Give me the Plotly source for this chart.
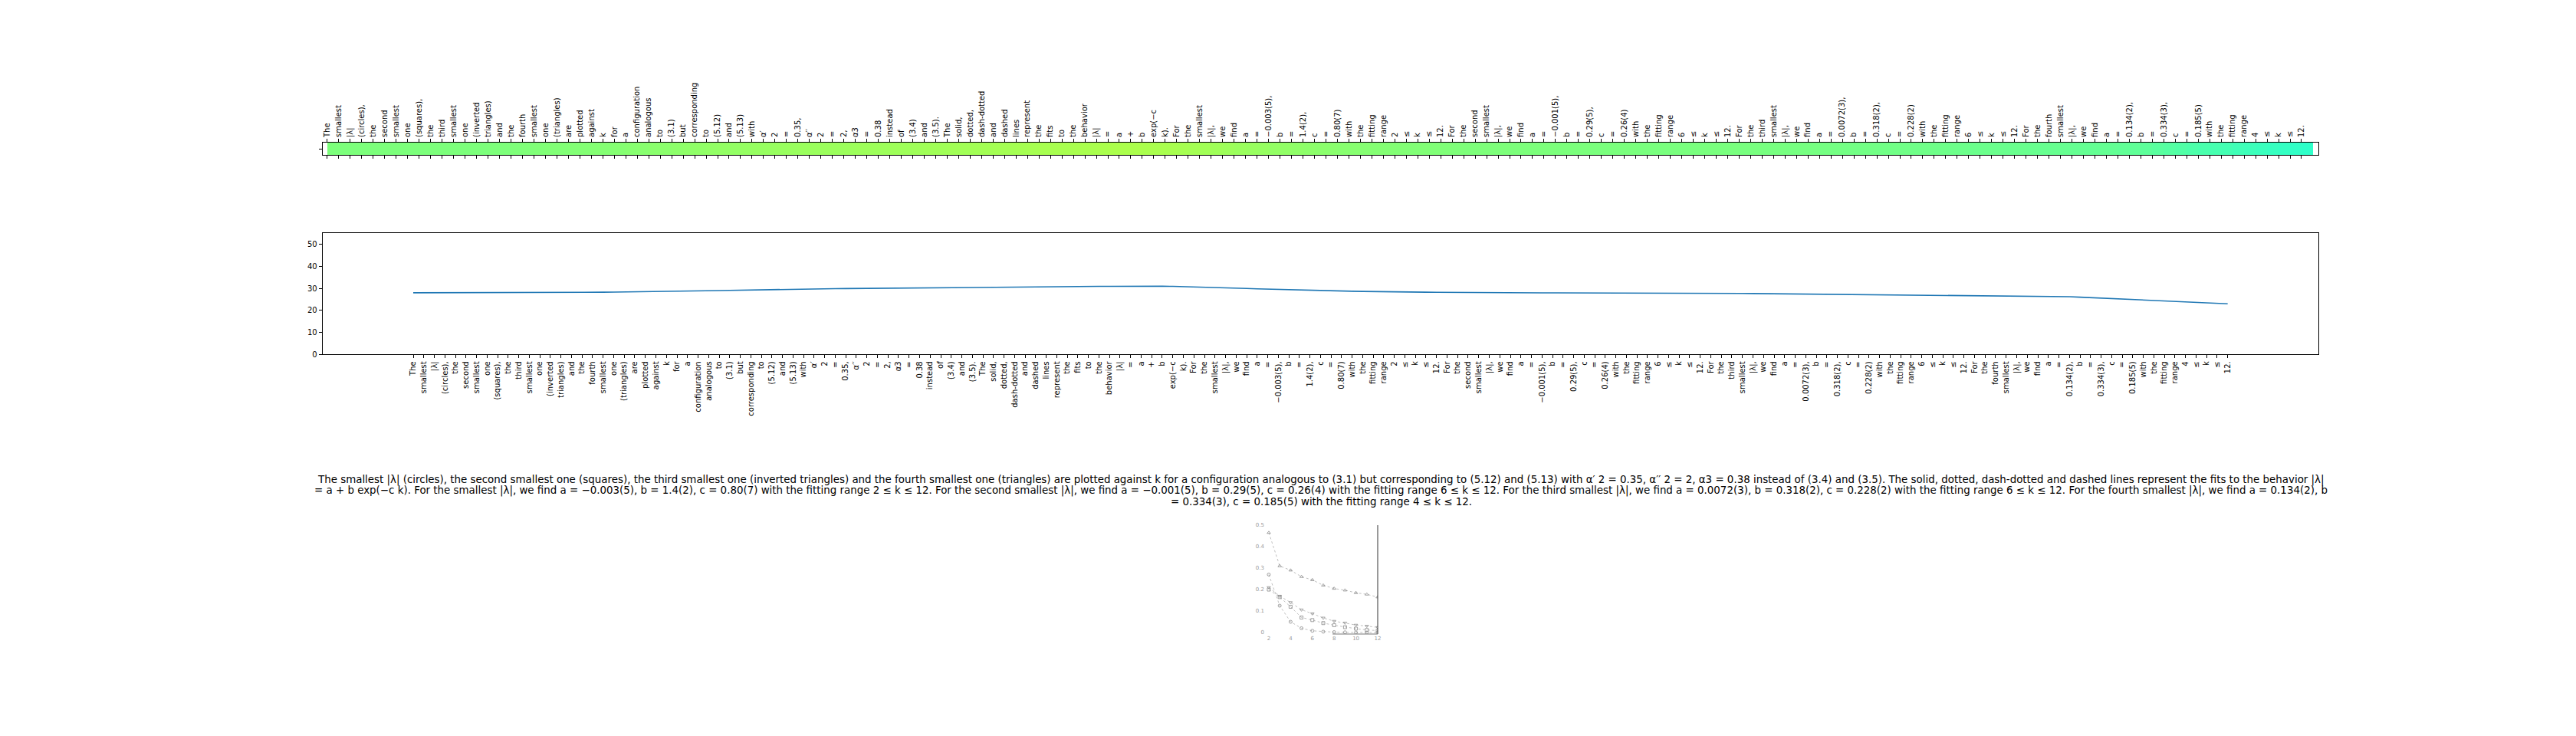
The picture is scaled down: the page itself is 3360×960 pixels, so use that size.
import plotly.graph_objects as go

# ---------------- data ----------------
caption = ("The smallest |λ| (circles), the second smallest one (squares), the third smallest one "
           "(inverted triangles) and the fourth smallest one (triangles) are plotted against k for a "
           "configuration analogous to (3.1) but corresponding to (5.12) and (5.13) with α′ 2 = 0.35, "
           "α′′ 2 = 2, α3 = 0.38 instead of (3.4) and (3.5). The solid, dotted, dash-dotted and dashed "
           "lines represent the fits to the behavior |λ| = a + b exp(−c k). For the smallest |λ|, we find "
           "a = −0.003(5), b = 1.4(2), c = 0.80(7) with the fitting range 2 ≤ k ≤ 12. For the second "
           "smallest |λ|, we find a = −0.001(5), b = 0.29(5), c = 0.26(4) with the fitting range 6 ≤ k ≤ 12. "
           "For the third smallest |λ|, we find a = 0.0072(3), b = 0.318(2), c = 0.228(2) with the fitting "
           "range 6 ≤ k ≤ 12. For the fourth smallest |λ|, we find a = 0.134(2), b = 0.334(3), "
           "c = 0.185(5) with the fitting range 4 ≤ k ≤ 12.")
words = caption.split(" ")
caption_line_ends = [68, 159]

word_values = [
    28.0, 28.0, 28.0, 28.0, 28.0, 28.0, 28.0, 28.0, 28.0, 28.0, 28.0, 28.0, 28.0,
    28.0, 28.05, 28.1, 28.15, 28.2, 28.25, 28.3, 28.35,
    28.4, 28.45, 28.5, 28.55, 28.6, 28.7, 28.8, 28.9, 29.0, 29.1,
    29.2, 29.3, 29.4, 29.45, 29.5, 29.6, 29.7, 29.75, 29.8, 29.85,
    29.9, 29.95, 30.0, 30.0, 30.05, 30.1, 30.1, 30.15, 30.2, 30.2, 30.25, 30.3, 30.3, 30.35,
    30.4, 30.45, 30.5, 30.55, 30.6, 30.65, 30.7, 30.75, 30.8, 30.85, 30.9, 30.9, 30.95, 31.0, 31.0, 31.0,
    30.95, 30.9, 30.8, 30.7, 30.55, 30.4, 30.25, 30.1, 29.95, 29.8,
    29.65, 29.5, 29.35, 29.2, 29.1, 29.0, 28.9, 28.8, 28.7, 28.6, 28.5, 28.45, 28.4, 28.35, 28.3,
    28.25, 28.2, 28.15, 28.1, 28.1,
    28.05, 28.05, 28.0, 28.0, 28.0, 28.0, 27.95, 27.95, 27.95, 27.9, 27.9, 27.9, 27.9, 27.85, 27.85,
    27.85, 27.85, 27.8, 27.8, 27.8, 27.8, 27.8, 27.75, 27.75, 27.7,
    27.7, 27.65, 27.6, 27.6, 27.55, 27.5, 27.45, 27.4, 27.35, 27.3, 27.3, 27.25, 27.2, 27.15, 27.1,
    27.05, 27.0, 26.95, 26.9, 26.85, 26.8, 26.8, 26.75, 26.7, 26.65,
    26.6, 26.55, 26.5, 26.45, 26.4, 26.3, 26.2, 26.0, 25.8, 25.5,
    25.25, 25.0, 24.8, 24.6, 24.4, 24.2, 24.0, 23.8, 23.6, 23.4, 23.2, 23.0,
]
y_ticks = [0, 10, 20, 30, 40, 50]

# embedded small figure (|λ| against k)
k_values = [2, 3, 4, 5, 6, 7, 8, 9, 10, 11, 12]
lam_circles = [0.27, 0.125, 0.05, 0.02, 0.008, 0.004, 0.002, 0.001, 0.0, 0.0, 0.0]
lam_squares = [0.2, 0.165, 0.12, 0.07, 0.058, 0.044, 0.034, 0.025, 0.018, 0.012, 0.009]
lam_inv_triangles = [0.21, 0.17, 0.14, 0.106, 0.088, 0.068, 0.053, 0.045, 0.035, 0.03, 0.024]
lam_triangles = [0.465, 0.31, 0.29, 0.26, 0.245, 0.22, 0.205, 0.197, 0.185, 0.178, 0.165]
img_xticks = [2, 4, 6, 8, 10, 12]
img_yticks = [0, 0.1, 0.2, 0.3, 0.4, 0.5]

# ---------------- style helpers ----------------
OFF = 8  # default page body margin
W, H = 3360 - OFF, 960 - OFF
FONT = "DejaVu Sans"


def xd(a, b):
    return [(a - OFF) / W, (b - OFF) / W]


def yd(top, bottom):
    return [1 - (bottom - OFF) / H, 1 - (top - OFF) / H]


def px_x(a):
    return (a - OFF) / W


def px_y(a):
    return 1 - (a - OFF) / H


def jet_scale():
    red = [(0, 0), (0.35, 0), (0.66, 1), (0.89, 1), (1, 0.5)]
    green = [(0, 0), (0.125, 0), (0.375, 1), (0.64, 1), (0.91, 0), (1, 0)]
    blue = [(0, 0.5), (0.11, 1), (0.34, 1), (0.65, 0), (1, 0)]

    def interp(seg, t):
        for (x0, v0), (x1, v1) in zip(seg, seg[1:]):
            if x0 <= t <= x1:
                return v0 + (v1 - v0) * (t - x0) / (x1 - x0) if x1 > x0 else v1
        return seg[-1][1]

    pts = sorted(set(p for seg in (red, green, blue) for p, _ in seg))
    return [[t, "rgb(%d,%d,%d)" % (round(255 * interp(red, t)), round(255 * interp(green, t)),
                                   round(255 * interp(blue, t)))] for t in pts]


n = len(words)
idx = list(range(n))

fig = go.Figure()

# top strip
fig.add_trace(go.Heatmap(z=[word_values], x=[i + 0.5 for i in idx], y=[0], colorscale=jet_scale(),
                         zmin=1.7, zmax=54.3, showscale=False, xaxis="x", yaxis="y",
                         hoverinfo="skip"))
# middle line chart
fig.add_trace(go.Scatter(x=idx, y=word_values, mode="lines", line=dict(color="#1f77b4", width=1.6),
                         xaxis="x2", yaxis="y2", showlegend=False))

# small embedded figure
series = [(lam_circles, "circle-open"), (lam_squares, "square-open"),
          (lam_inv_triangles, "triangle-down-open"), (lam_triangles, "triangle-up-open")]
for vals, sym in series:
    fig.add_trace(go.Scatter(x=k_values, y=vals, mode="lines+markers",
                             line=dict(color="#b0b0b0", width=0.8, dash="dot"),
                             marker=dict(symbol=sym, size=4, color="#8a8a8a", line=dict(width=0.8)),
                             xaxis="x3", yaxis="y3", showlegend=False))

axis_common = dict(showgrid=False, zeroline=False, automargin=False, showline=True, linecolor="black",
                   linewidth=1, ticks="outside", ticklen=4, tickcolor="black", tickwidth=1,
                   tickfont=dict(family=FONT, size=10, color="black"))

fig.update_layout(
    width=W, height=H, margin=dict(l=0, r=0, t=0, b=0),
    paper_bgcolor="white", plot_bgcolor="white", showlegend=False,
    xaxis=dict(domain=xd(420.7, 3024), range=[-0.42, n + 0.47], tickmode="array", tickvals=idx,
               ticktext=words, side="top", tickangle=-90, mirror="ticks", anchor="y", **axis_common),
    yaxis=dict(domain=yd(186, 202), range=[-0.5, 0.5], tickmode="array", tickvals=[0], ticktext=[""],
               mirror=True, anchor="x", **axis_common),
    xaxis2=dict(domain=xd(420.7, 3024), range=[-0.05 * (n - 1), 1.05 * (n - 1)], tickmode="array",
                tickvals=idx, ticktext=words, tickangle=-90, mirror=True, anchor="y2", **axis_common),
    yaxis2=dict(domain=yd(304.3, 462.3), range=[0, 55], tickmode="array", tickvals=y_ticks,
                mirror=True, anchor="x2", **axis_common),
    xaxis3=dict(domain=xd(1650, 1797), range=[1.65, 12], tickmode="array", tickvals=img_xticks,
                showgrid=False, zeroline=False, showline=False, ticks="", automargin=False,
                tickfont=dict(family=FONT, size=7, color="#9a9a9a"), anchor="y3"),
    yaxis3=dict(domain=yd(685, 827), range=[-0.007, 0.5], tickmode="array", tickvals=img_yticks,
                showgrid=False, zeroline=False, showline=False, ticks="", automargin=False,
                tickfont=dict(family=FONT, size=7, color="#9a9a9a"), anchor="x3"),
    shapes=[
        dict(type="line", xref="x3 domain", yref="y3 domain", x0=1, x1=1, y0=0, y1=1,
             line=dict(color="#333333", width=1)),
        dict(type="line", xref="x3 domain", yref="y3 domain", x0=0.6, x1=1, y0=0, y1=0,
             line=dict(color="#777777", width=1)),
    ],
)

bounds = [0] + caption_line_ends + [n]
line_y = [626, 640, 654]
for (a, b), yy in zip(zip(bounds, bounds[1:]), line_y):
    fig.add_annotation(text=" ".join(words[a:b]), xref="paper", yref="paper", x=px_x(1723), y=px_y(yy),
                       xanchor="center", yanchor="middle", align="center", showarrow=False,
                       font=dict(family=FONT, size=13.4, color="black"))

fig.write_html("out.html")
